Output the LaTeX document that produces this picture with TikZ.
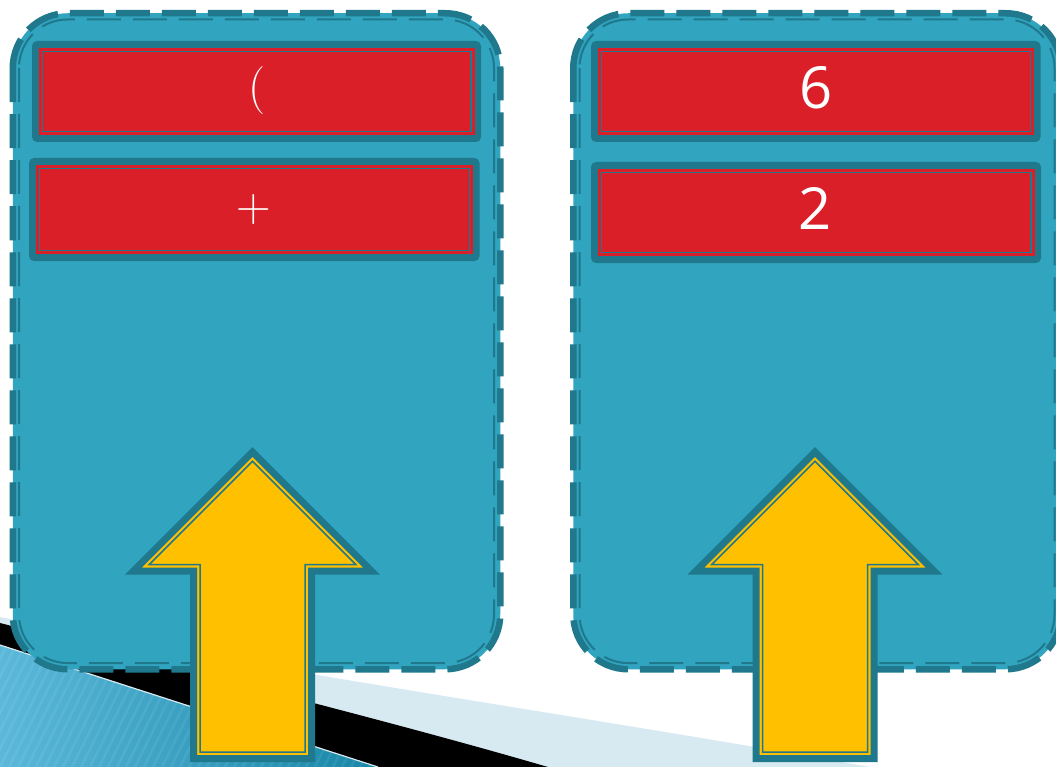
\documentclass[tikz,border=0pt]{standalone}
\usepackage{fontspec}
\newfontfamily\digitfont{Open Sans}
\definecolor{cfill}{HTML}{31A4C0}
\definecolor{cdark}{HTML}{1F788C}
\definecolor{cred}{HTML}{DA1F28}
\definecolor{cyellow}{HTML}{FFC000}
\definecolor{cband}{HTML}{D7EAF1}
\definecolor{cblueA}{HTML}{5BB8DA}
\definecolor{cblueB}{HTML}{1786A6}
\tikzset{
  contfill/.style={fill=cfill, rounded corners=55},
  thickdash/.style={draw=cdark, line width=6.5, dash pattern=on 34 off 12},
  thindash/.style={draw=cdark, line width=2, dash pattern=on 34 off 12},
  arrowout/.style={fill=cyellow, draw=cdark, line width=7, line join=miter, miter limit=10},
  arrowin/.style={draw=cdark, line width=1.5, line join=miter},
  parentxt/.style={text=white, inner sep=0pt, font=\fontsize{48}{50}\selectfont},
  digittxt/.style={text=white, inner sep=0pt, font=\digitfont\fontsize{58}{60}\selectfont},
}
\newcommand\mybox[4]{%
  \fill[cdark, rounded corners=5] (#1,#2) rectangle (#3,#4);
  \fill[cred] (#1+7,#2+7) rectangle (#3-6.5,#4-7);
  \draw[cdark, line width=1.5] (#1+10.5,#2+10.5) rectangle (#3-10,#4-10.5);
}
\newcommand\myarrow[1]{%
  \draw[arrowout] (#1,452) -- (#1+119,571) -- (#1+59,571) -- (#1+59,758.5)
     -- (#1-59,758.5) -- (#1-59,571) -- (#1-119,571) -- cycle;
  \draw[arrowin] (#1,461.2) -- (#1+103.3,564.5) -- (#1+52.5,564.5) -- (#1+52.5,752)
     -- (#1-52.5,752) -- (#1-52.5,564.5) -- (#1-103.3,564.5) -- cycle;
}
\begin{document}
\begin{tikzpicture}[x=1pt,y=-1pt]
\useasboundingbox (0,0) rectangle (1056,767);
\clip (0,0) rectangle (1056,767);
\fill[white] (0,0) rectangle (1056,767);
% background bands
\fill[cband] (0,617) .. controls (300,677) and (560,712) .. (870,767) -- (0,767) -- cycle;
\fill[black] (0,623) .. controls (160,664) and (380,718) .. (548,767) -- (0,767) -- cycle;
\shade[left color=cblueA, right color=cblueB] (0,645) -- (378,767) -- (0,767) -- cycle;
\begin{scope}
  \clip (0,645) -- (378,767) -- (0,767) -- cycle;
  \foreach \i in {-10,...,60}
    \draw[white, opacity=0.07, line width=2.5] (\i*9,767) -- ++(70,-140);
\end{scope}
\draw[cband, line width=1.2] (0,645) -- (378,767);
% containers
\foreach \ox in {0,560.5} {
  \fill[contfill] (12.75+\ox,13.25) rectangle (500.25+\ox,669.25);
  \draw[thickdash, rounded corners=55] (12.75+\ox,13.25) rectangle (500.25+\ox,669.25);
  \draw[thindash, rounded corners=48.5] (19+\ox,19.5) rectangle (494+\ox,663);
}
% red boxes
\mybox{32}{41}{481}{142}
\mybox{29}{158}{479.5}{261}
\mybox{591}{41}{1040.5}{142}
\mybox{591}{162}{1041}{263}
% texts
\node[parentxt] (t1) at (257,91) {(};
\node[parentxt] (t2) at (254,210) {+};
\node[digittxt] (t3) at (816.5,87.5) {6};
\node[digittxt] (t4) at (815.5,209) {2};
% arrows
\myarrow{252.5}
\myarrow{815}
\end{tikzpicture}
\end{document}
